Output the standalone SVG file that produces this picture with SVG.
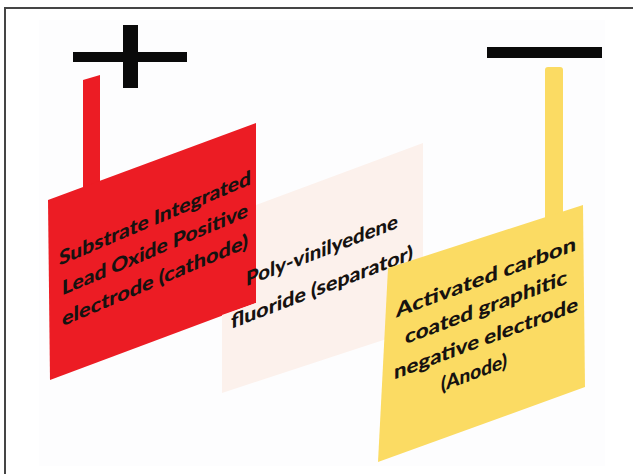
<svg xmlns="http://www.w3.org/2000/svg" width="633" height="474" viewBox="0 0 633 474">
<style>
.lbl{font-family:Lato,"Open Sans","Liberation Sans",sans-serif;font-weight:900;font-size:20px;fill:#161210;text-anchor:middle}
.bar{fill:#0a0a0a}
.red{fill:#ec1c24}
.yel{fill:#fbdb63}
.sep{fill:#fcf1ec}
</style>
<rect x="0" y="0" width="633" height="474" fill="#ffffff"/>
<rect x="39" y="20" width="566" height="446" fill="#fdfdfe"/>
<rect x="5" y="8" width="640" height="480" fill="none" stroke="#454545" stroke-width="2"/>
<g id="plus">
<rect class="bar" x="73" y="52" width="114" height="10"/>
<rect class="bar" x="123" y="25" width="15" height="63"/>
</g>
<g id="minus">
<rect class="bar" x="487" y="47" width="115" height="11"/>
</g>
<g id="cathode">
<polygon class="red" points="83,80 100,75 100,192 83,198"/>
<polygon class="red" points="48,200 256,123 256,303 50,380"/>
<g transform="translate(155,0) skewY(-23)">
<text class="lbl" x="0" y="225" textLength="192" lengthAdjust="spacingAndGlyphs">Substrate Integrated</text>
<text class="lbl" x="0" y="256" textLength="186" lengthAdjust="spacingAndGlyphs">Lead Oxide Positive</text>
<text class="lbl" x="0" y="287" textLength="186" lengthAdjust="spacingAndGlyphs">electrode (cathode)</text>
</g>
</g>
<g id="separator">
<polygon class="sep" points="222,315 256,303 256,205 423,143 423,327 222,393"/>
<g transform="translate(322,0) skewY(-21)">
<text class="lbl" x="0" y="257" textLength="152" lengthAdjust="spacingAndGlyphs">Poly-vinilyedene</text>
<text class="lbl" x="0" y="294" textLength="182" lengthAdjust="spacingAndGlyphs">fluoride (separator)</text>
</g>
</g>
<g id="anode">
<rect class="yel" x="545" y="67" width="18" height="160" rx="3"/>
<polygon class="yel" points="388,268 583,205 585,387 378,462"/>
<g transform="translate(486,0) skewY(-20.5)">
<text class="lbl" x="0" y="284" textLength="180" lengthAdjust="spacingAndGlyphs">Activated carbon</text>
<text class="lbl" x="0" y="314" textLength="162" lengthAdjust="spacingAndGlyphs">coated graphitic</text>
<text class="lbl" x="0" y="345" textLength="184" lengthAdjust="spacingAndGlyphs">negative electrode</text>
<text class="lbl" x="-12" y="375" textLength="66" lengthAdjust="spacingAndGlyphs">(Anode)</text>
</g>
</g>
<g id="connectors"/>
</svg>
